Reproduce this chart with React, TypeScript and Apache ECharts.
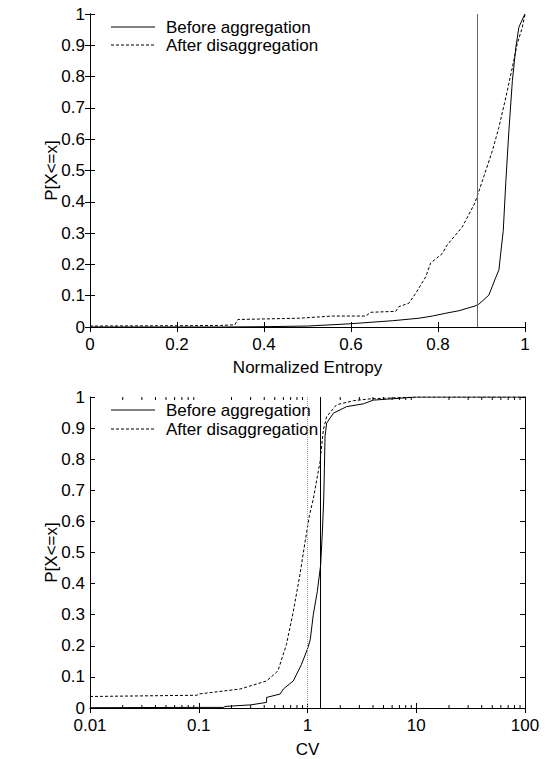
import React, { useEffect, useRef } from "react";
import * as echarts from "echarts";

const seriesNames = ["Before aggregation", "After disaggregation"];

// Top chart: normalized entropy CDF
const entropyBeforeX = [0, 0.3, 0.4, 0.5, 0.595, 0.695, 0.756, 0.787, 0.818, 0.848, 0.885, 0.894, 0.917, 0.933, 0.94, 0.944, 0.95, 0.956, 0.963, 0.971, 0.979, 0.986, 0.998, 1];
const entropyBeforeY = [0, 0, 0.001, 0.003, 0.01, 0.02, 0.028, 0.035, 0.044, 0.052, 0.067, 0.073, 0.102, 0.159, 0.182, 0.233, 0.308, 0.467, 0.627, 0.787, 0.894, 0.958, 0.995, 1];
const entropyAfterX = [0, 0.2, 0.3, 0.333, 0.34, 0.48, 0.557, 0.634, 0.645, 0.703, 0.71, 0.733, 0.749, 0.772, 0.783, 0.81, 0.821, 0.856, 0.885, 0.902, 0.925, 0.94, 0.956, 0.971, 0.982, 0.994, 1];
const entropyAfterY = [0.003, 0.004, 0.005, 0.007, 0.024, 0.028, 0.035, 0.035, 0.047, 0.05, 0.065, 0.076, 0.108, 0.161, 0.204, 0.235, 0.262, 0.32, 0.397, 0.467, 0.563, 0.638, 0.734, 0.83, 0.904, 0.958, 1];
const entropyThreshold = 0.888;

// Bottom chart: CV CDF (log x)
const cvBeforeX = [0.01, 0.1, 0.17, 0.174, 0.3, 0.42, 0.421, 0.56, 0.6, 0.74, 0.88, 1.0, 1.06, 1.13, 1.23, 1.32, 1.37, 1.41, 1.43, 1.45, 1.5, 1.73, 2.29, 3.26, 4.03, 7.08, 10, 100];
const cvBeforeY = [0.001, 0.002, 0.002, 0.005, 0.01, 0.018, 0.034, 0.045, 0.061, 0.087, 0.14, 0.19, 0.22, 0.3, 0.374, 0.459, 0.566, 0.672, 0.77, 0.874, 0.916, 0.948, 0.969, 0.978, 0.99, 0.996, 1, 1];
const cvAfterX = [0.01, 0.096, 0.1, 0.24, 0.42, 0.52, 0.54, 0.64, 0.74, 0.85, 0.95, 1.04, 1.13, 1.3, 1.4, 1.5, 1.85, 2.64, 3.76, 7.08, 10, 100];
const cvAfterY = [0.037, 0.041, 0.045, 0.061, 0.087, 0.115, 0.124, 0.204, 0.31, 0.427, 0.534, 0.618, 0.672, 0.789, 0.895, 0.937, 0.975, 0.988, 0.994, 0.998, 1, 1];
const cvSolidLine = 1.3;
const cvDottedLine = 1;

const logMinorTicks: number[] = [];
[0.01, 0.1, 1, 10].forEach((d) => {
  for (let k = 2; k <= 9; k++) logMinorTicks.push(+(d * k).toPrecision(3));
});

const FONT = "'Liberation Sans', Arial, Helvetica, sans-serif";
const FS = 17;

const zip = (xs: number[], ys: number[]) => xs.map((x, i) => [x, ys[i]]);

function legendGraphic(y0: number, gap: number) {
  const items: any[] = [];
  seriesNames.forEach((name, i) => {
    const y = y0 + i * gap;
    items.push({
      type: "line",
      silent: true,
      shape: { x1: 111, y1: y, x2: 155, y2: y },
      style: { stroke: "#000", lineWidth: 1, lineDash: i === 1 ? [3, 2] : null },
    });
    items.push({
      type: "text",
      silent: true,
      x: 166,
      y,
      style: { text: name, fill: "#000", fontSize: FS, fontFamily: FONT, verticalAlign: "middle", align: "left" },
    });
  });
  return items;
}

export default function App() {
  const ref = useRef<HTMLDivElement>(null);
  useEffect(() => {
    if (!ref.current) return;
    const chart = echarts.init(ref.current, null, { renderer: "svg" });
    const axisLine = { show: true, lineStyle: { color: "#000", width: 1 } };
    const tick = { show: true, inside: true, length: 5, lineStyle: { color: "#000", width: 1 } };
    const label = { color: "#000", fontSize: FS, fontFamily: FONT };
    const nameStyle = { color: "#000", fontSize: FS, fontFamily: FONT };

    const linX = (gi: number, pos: "bottom" | "top", withLabels: boolean) => ({
      type: "value",
      gridIndex: gi,
      position: pos,
      min: 0,
      max: 1,
      interval: 0.2,
      axisLine,
      axisTick: tick,
      splitLine: { show: false },
      axisLabel: withLabels ? { ...label, margin: 9 } : { show: false },
      name: withLabels ? "Normalized Entropy" : "",
      nameLocation: "middle",
      nameGap: 32,
      nameMoveOverlap: false,
      nameTextStyle: nameStyle,
    });
    const logX = (gi: number, pos: "bottom" | "top", withLabels: boolean) => ({
      type: "log",
      logBase: 10,
      gridIndex: gi,
      position: pos,
      min: 0.01,
      max: 100,
      axisLine,
      axisTick: tick,
      minorTick: { show: false },
      splitLine: { show: false },
      axisLabel: withLabels ? { ...label, margin: 9 } : { show: false },
      name: withLabels ? "CV" : "",
      nameLocation: "middle",
      nameGap: 33,
      nameMoveOverlap: false,
      nameTextStyle: nameStyle,
    });
    const yAx = (gi: number, pos: "left" | "right", withLabels: boolean) => ({
      type: "value",
      gridIndex: gi,
      position: pos,
      min: 0,
      max: 1,
      interval: 0.1,
      axisLine,
      axisTick: tick,
      splitLine: { show: false },
      axisLabel: withLabels ? { ...label, margin: 5 } : { show: false },
      name: withLabels ? "P[X<=x]" : "",
      nameLocation: "middle",
      nameGap: 30,
      nameMoveOverlap: false,
      nameTextStyle: nameStyle,
    });

    const lineSeries = (name: string, data: number[][], xi: number, yi: number, dashed: boolean, extra: any = {}) => ({
      type: "line",
      name,
      xAxisIndex: xi,
      yAxisIndex: yi,
      data,
      showSymbol: false,
      symbol: "none",
      silent: true,
      lineStyle: { color: "#000", width: 1, type: dashed ? [3, 2] : "solid" },
      itemStyle: { color: "#000" },
      ...extra,
    });

    chart.setOption({
      animation: false,
      backgroundColor: "#fff",
      textStyle: { fontFamily: FONT },
      grid: [
        { left: 90, top: 14, width: 435, height: 313 },
        { left: 90, top: 397, width: 435, height: 314 },
      ],
      xAxis: [linX(0, "bottom", true), linX(0, "top", false), logX(1, "bottom", true), logX(1, "top", false)],
      yAxis: [yAx(0, "left", true), yAx(0, "right", false), yAx(1, "left", true), yAx(1, "right", false)],
      graphic: [...legendGraphic(27, 18), ...legendGraphic(410, 19)],
      series: [
        lineSeries(seriesNames[0], zip(entropyBeforeX, entropyBeforeY), 0, 0, false, {
          markLine: {
            silent: true,
            symbol: "none",
            label: { show: false },
            lineStyle: { color: "#666", width: 1, type: "solid" },
            data: [{ xAxis: entropyThreshold }],
          },
        }),
        lineSeries(seriesNames[1], zip(entropyAfterX, entropyAfterY), 0, 0, true),
        lineSeries(seriesNames[0], zip(cvBeforeX, cvBeforeY), 2, 2, false, {
          markLine: {
            silent: true,
            symbol: "none",
            label: { show: false },
            data: [
              { xAxis: cvDottedLine, lineStyle: { color: "#999", width: 1, type: [1, 1] } },
              { xAxis: cvSolidLine, lineStyle: { color: "#000", width: 1, type: "solid" } },
            ],
          },
        }),
        lineSeries(seriesNames[1], zip(cvAfterX, cvAfterY), 2, 2, true),
        {
          type: "custom",
          name: "minorTicks",
          xAxisIndex: 2,
          yAxisIndex: 2,
          silent: true,
          clip: false,
          data: logMinorTicks.map((v) => [v, 0]),
          renderItem: (params: any, api: any) => {
            const v = api.value(0);
            const b = api.coord([v, 0]);
            const t = api.coord([v, 1]);
            const st = { stroke: "#000", lineWidth: 1 };
            return {
              type: "group",
              children: [
                { type: "line", shape: { x1: b[0], y1: b[1], x2: b[0], y2: b[1] - 3 }, style: st },
                { type: "line", shape: { x1: t[0], y1: t[1], x2: t[0], y2: t[1] + 3 }, style: st },
              ],
            };
          },
        },
      ],
    });
    return () => chart.dispose();
  }, []);
  return <div ref={ref} style={{ position: "absolute", left: 0, top: 0, width: 548, height: 759 }} />;
}
